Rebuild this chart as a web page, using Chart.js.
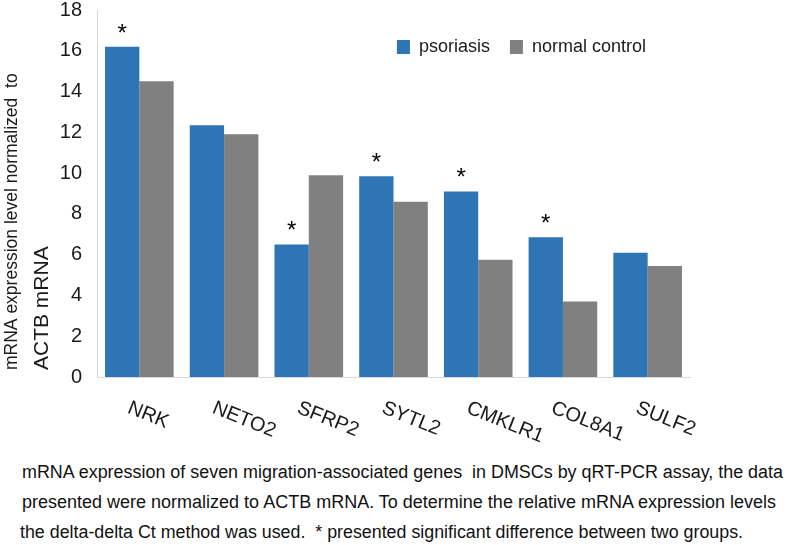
<!DOCTYPE html>
<html>
<head>
<meta charset="utf-8">
<script src="https://cdn.jsdelivr.net/npm/chart.js@4.4.1/dist/chart.umd.min.js"></script>
<style>
  html, body { margin: 0; padding: 0; background: #fff; }
  #wrap { position: relative; width: 787px; height: 545px; overflow: hidden; }
  #chart-box { position: absolute; left: 0; top: 0; width: 787px; height: 450px; }
  .cap { position: absolute; left: 0; top: 457px; font-family: "Liberation Sans", Arial, sans-serif;
         font-size: 18px; line-height: 30px; color: #111; }
  .cap span { display: block; white-space: pre; transform-origin: left center; width: max-content; }
</style>
</head>
<body>
<div id="wrap">
  <div id="chart-box"><canvas id="expr-chart" width="787" height="450"></canvas></div>
  <div class="cap">
    <span style="margin-left:22px">mRNA expression of seven migration-associated genes  in DMSCs by qRT-PCR assay, the data</span>
    <span style="margin-left:22px">presented were normalized to ACTB mRNA. To determine the relative mRNA expression levels</span>
    <span style="margin-left:20px">the delta-delta Ct method was used.  * presented significant difference between two groups.</span>
  </div>
</div>
<script>
// データ
const categories = ['NRK', 'NETO2', 'SFRP2', 'SYTL2', 'CMKLR1', 'COL8A1', 'SULF2'];
const psoriasis = [16.2, 12.35, 6.5, 9.85, 9.1, 6.85, 6.1];
const normalControl = [14.5, 11.9, 9.9, 8.6, 5.75, 3.7, 5.45];
const significant = [true, false, true, true, true, true, false];
const seriesNames = ['psoriasis', 'normal control'];
const yTitleLines = ['mRNA expression level normalized  to', 'ACTB mRNA'];
const yMax = 18;
const yStep = 2;

const FONT = 'Liberation Sans';
const TEXT = '#1a1a1a';

// x軸ラベル（斜め下向き）
const slantLabels = {
  id: 'slantLabels',
  afterDraw(chart) {
    const xs = chart.scales.x;
    const ctx = chart.ctx;
    ctx.save();
    ctx.font = '20px "' + FONT + '"';
    ctx.fillStyle = TEXT;
    ctx.textAlign = 'left';
    ctx.textBaseline = 'top';
    categories.forEach((c, i) => {
      ctx.save();
      ctx.translate(xs.getPixelForValue(i) - 7, xs.top + 21);
      ctx.rotate(22 * Math.PI / 180);
      ctx.fillText(c, 0, 0);
      ctx.restore();
    });
    ctx.restore();
  }
};

// y軸タイトル（2行目は少し大きい）
const yTitle = {
  id: 'yTitle',
  afterDraw(chart) {
    const ys = chart.scales.y;
    const ctx = chart.ctx;
    const lines = [{ x: 12, size: 17.5 }, { x: 42, size: 21 }];
    ctx.save();
    ctx.fillStyle = TEXT;
    ctx.textAlign = 'left';
    ctx.textBaseline = 'middle';
    yTitleLines.forEach((t, i) => {
      ctx.save();
      ctx.translate(lines[i].x, ys.bottom - 7);
      ctx.rotate(-Math.PI / 2);
      ctx.font = lines[i].size + 'px "' + FONT + '"';
      ctx.fillText(t, 0, 0);
      ctx.restore();
    });
    ctx.restore();
  }
};

// 有意差のアスタリスク
const stars = {
  id: 'stars',
  afterDatasetsDraw(chart) {
    const meta = chart.getDatasetMeta(0);
    const ctx = chart.ctx;
    ctx.save();
    ctx.font = '24px "' + FONT + '"';
    ctx.fillStyle = '#000';
    ctx.textAlign = 'center';
    ctx.textBaseline = 'alphabetic';
    significant.forEach((s, i) => {
      if (!s) return;
      const bar = meta.data[i];
      ctx.fillText('*', bar.x, bar.y - 6);
    });
    ctx.restore();
  }
};

// 凡例はスペースを取らず、プロット内の右上に置く
const legendPlace = {
  id: 'legendPlace',
  beforeLayout(chart) {
    const lg = chart.legend;
    if (lg && !lg._flat) {
      const fit = lg.fit;
      lg.fit = function () { fit.call(this); this.height = 0; };
      lg._flat = true;
    }
  },
  afterLayout(chart) {
    const lg = chart.legend;
    const ca = chart.chartArea;
    lg.right = ca.right - 24;
    lg.left = ca.left;
    lg.top = ca.top + 8;
    lg.bottom = lg.top + 50;
  }
};

const ctx = document.getElementById('expr-chart').getContext('2d');
const exprChart = new Chart(ctx, {
  type: 'bar',
  data: {
    labels: categories,
    datasets: [{
      label: seriesNames[0],
      data: psoriasis,
      backgroundColor: '#2E75B6',
      borderWidth: 0
    }, {
      label: seriesNames[1],
      data: normalControl,
      backgroundColor: '#808080',
      borderWidth: 0
    }]
  },
  options: {
    responsive: false,
    animation: false,
    layout: { padding: { left: 0, right: 97, top: 10, bottom: 0 } },
    plugins: {
      legend: {
        position: 'top',
        align: 'end',
        labels: {
          boxWidth: 13,
          boxHeight: 14,
          padding: 20,
          color: TEXT,
          font: { family: FONT, size: 18 }
        }
      },
      tooltip: { enabled: false }
    },
    datasets: {
      bar: { categoryPercentage: 0.81, barPercentage: 1.0 }
    },
    scales: {
      x: {
        grid: { display: false },
        border: { display: true, color: '#d9d9d9', width: 1 },
        ticks: { display: false },
        afterFit(scale) { scale.height = 73; }
      },
      y: {
        min: 0,
        max: yMax,
        // 目盛り線は描かないが、tickLengthでラベルと軸の間隔を取る
        grid: { display: false, drawTicks: true, tickLength: 15 },
        border: { display: true, color: '#d9d9d9', width: 1 },
        ticks: {
          stepSize: yStep,
          padding: 0,
          color: TEXT,
          font: { family: FONT, size: 20, lineHeight: 1.0 }
        },
        afterFit(scale) { scale.width = 97; }
      }
    }
  },
  plugins: [slantLabels, yTitle, stars, legendPlace]
});

// キャプションの行幅を合わせる
const capWidths = [761, 754, 723];
document.querySelectorAll('.cap span').forEach((s, i) => {
  const w = s.getBoundingClientRect().width;
  s.style.transform = 'scaleX(' + (capWidths[i] / w) + ')';
});
</script>
</body>
</html>
